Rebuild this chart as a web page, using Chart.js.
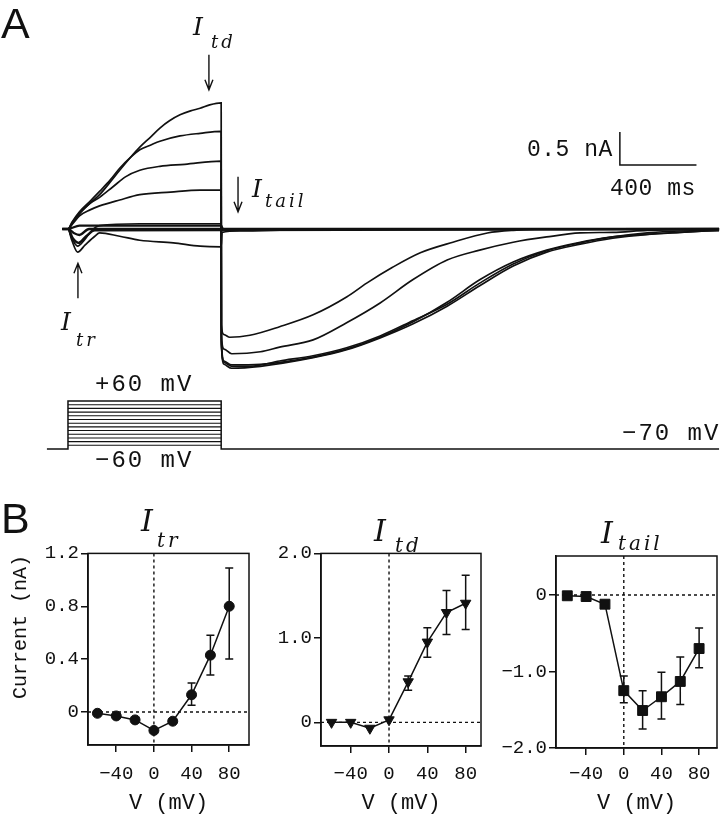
<!DOCTYPE html>
<html>
<head>
<meta charset="utf-8">
<script src="https://cdn.jsdelivr.net/npm/chart.js@4.4.1/dist/chart.umd.min.js"></script>
<style>
body { margin: 0; background: #fff; width: 725px; height: 816px; position: relative; overflow: hidden; color: #111; }
canvas { position: absolute; }
.t { position: absolute; white-space: pre; line-height: 1; }
.mono { font-family: "Liberation Mono", monospace; }
.it { font-family: "DejaVu Serif", serif; font-style: italic; }
.pl { font-family: "Liberation Sans", Arial, sans-serif; font-size: 43px; }
</style>
</head>
<body>
<canvas id="traces" width="725" height="480" style="left:0;top:0"></canvas>
<canvas id="ivTr" width="255" height="276" style="left:0;top:540px"></canvas>
<canvas id="ivTd" width="230" height="276" style="left:258px;top:540px"></canvas>
<canvas id="ivTail" width="235" height="276" style="left:490px;top:540px"></canvas>

<div class="t pl" style="left:1px;top:2px">A</div>
<div class="t pl" style="left:1px;top:497px">B</div>

<div class="t it" style="left:193px;top:14px;font-size:25px">I</div>
<div class="t it" style="left:211px;top:33px;font-size:18px;letter-spacing:3px">td</div>
<div class="t it" style="left:252px;top:176px;font-size:25px">I</div>
<div class="t it" style="left:265px;top:192px;font-size:18px;letter-spacing:3px">tail</div>
<div class="t it" style="left:61px;top:309px;font-size:25px">I</div>
<div class="t it" style="left:76px;top:331px;font-size:18px;letter-spacing:3px">tr</div>

<div class="t mono" style="left:527px;top:139px;font-size:23px;letter-spacing:0.5px">0.5 nA</div>
<div class="t mono" style="left:610px;top:178px;font-size:23px;letter-spacing:0.5px">400 ms</div>
<div class="t mono" style="left:95px;top:373px;font-size:24px;letter-spacing:2px">+60 mV</div>
<div class="t mono" style="left:95px;top:449px;font-size:24px;letter-spacing:2px">−60 mV</div>
<div class="t mono" style="left:622px;top:422px;font-size:24px;letter-spacing:2px">−70 mV</div>

<div class="t it" style="left:141px;top:506px;font-size:30px">I</div>
<div class="t it" style="left:157px;top:530px;font-size:20px;letter-spacing:3px">tr</div>
<div class="t it" style="left:374px;top:516px;font-size:30px">I</div>
<div class="t it" style="left:395px;top:535px;font-size:20px;letter-spacing:3px">td</div>
<div class="t it" style="left:601px;top:518px;font-size:30px">I</div>
<div class="t it" style="left:618px;top:533px;font-size:20px;letter-spacing:3px">tail</div>

<div class="t mono" style="left:-53px;top:617px;width:148px;height:20px;line-height:20px;text-align:center;font-size:20px;transform:rotate(-90deg)">Current (nA)</div>

<script>
// current traces, time in ms from step onset, current in nA
var t1 = [-30, 0, 20, 60, 115, 165, 220, 270, 325, 375, 430, 480, 530, 585, 640, 690, 740, 800, 801, 815, 845, 950, 1105, 1280, 1455, 1560, 1695, 1840, 2010, 2190, 2325, 2570, 3400];
var i1 = [0, 0, 0.08, 0.23, 0.39, 0.52, 0.71, 0.89, 1.08, 1.24, 1.39, 1.53, 1.64, 1.73, 1.79, 1.83, 1.88, 1.91, -1.45, -1.60, -1.64, -1.61, -1.48, -1.30, -1.03, -0.82, -0.58, -0.36, -0.20, -0.06, -0.02, 0, 0];
var t2 = [-30, 0, 20, 60, 115, 165, 220, 270, 325, 375, 430, 480, 585, 690, 800, 801, 815, 855, 1005, 1105, 1280, 1455, 1630, 1800, 1980, 2150, 2325, 2500, 2675, 2845, 3025, 3400];
var i2 = [0, 0, 0.10, 0.26, 0.42, 0.57, 0.74, 0.92, 1.08, 1.20, 1.27, 1.33, 1.41, 1.45, 1.48, -1.60, -1.82, -1.89, -1.86, -1.79, -1.68, -1.42, -1.12, -0.77, -0.47, -0.32, -0.20, -0.12, -0.06, -0.05, -0.02, 0];
var t3 = [-30, 0, 25, 60, 115, 165, 235, 300, 375, 480, 610, 800, 801, 815, 855, 950, 1105, 1280, 1455, 1630, 1800, 1980, 2150, 2325, 2500, 2675, 2845, 3025, 3195, 3400];
var i3 = [0, 0, 0.11, 0.24, 0.39, 0.48, 0.64, 0.79, 0.89, 0.95, 0.98, 1.03, -1.75, -2.02, -2.08, -2.08, -2.00, -1.92, -1.80, -1.62, -1.39, -1.14, -0.82, -0.53, -0.33, -0.21, -0.12, -0.08, -0.05, -0.02];
var t4 = [-30, 0, 25, 60, 115, 165, 270, 375, 535, 690, 800, 801, 815, 855, 1005, 1280, 1455, 1630, 1800, 1980, 2150, 2325, 2500, 2675, 2845, 3025, 3195, 3400];
var i4 = [0, 0, 0.08, 0.20, 0.29, 0.35, 0.44, 0.52, 0.56, 0.59, 0.59, -1.70, -2.05, -2.11, -2.08, -1.95, -1.83, -1.65, -1.44, -1.17, -0.86, -0.56, -0.35, -0.23, -0.14, -0.08, -0.05, -0.02];
var t5 = [-30, 0, 20, 50, 85, 125, 165, 375, 800, 801, 815, 855, 1005, 1280, 1455, 1630, 1800, 1980, 2150, 2325, 2500, 2675, 2845, 3025, 3195, 3400];
var i5 = [0, 0, -0.14, -0.26, -0.17, -0.02, 0.05, 0.08, 0.08, -1.70, -2.00, -2.06, -2.05, -1.94, -1.82, -1.64, -1.41, -1.11, -0.77, -0.50, -0.32, -0.20, -0.12, -0.06, -0.03, -0.02];
var t6 = [-30, 0, 20, 50, 90, 140, 165, 270, 375, 550, 690, 800, 805, 900, 1210, 3400];
var i6 = [0, 0, -0.17, -0.35, -0.24, -0.11, -0.06, -0.11, -0.17, -0.21, -0.26, -0.27, -0.05, -0.03, -0.01, 0];
var t7 = [-30, 0, 25, 55, 95, 140, 3400];
var i7 = [0, 0, -0.14, -0.21, -0.11, -0.02, 0];
var t8 = [-30, 0, 30, 60, 110, 3400];
var i8 = [0, 0, -0.06, -0.09, 0, 0];
var t9 = [-30, 0, 60, 165, 800, 810, 3400];
var i9 = [0, 0, 0.05, 0.05, 0.05, 0, 0];

// voltage protocol (mV)
var holdV = -70;
var stepV = [-60, -50, -40, -30, -20, -10, 0, 10, 20, 30, 40, 50, 60];
var stepEnd = 800;

// I-V summaries
var vmV = [-60, -40, -20, 0, 20, 40, 60, 80];
var iTr = [-0.01, -0.03, -0.06, -0.14, -0.07, 0.13, 0.43, 0.80];
var iTrLo = [null, null, null, null, null, 0.05, 0.28, 0.40];
var iTrHi = [null, null, null, null, null, 0.22, 0.58, 1.09];
var iTd = [0, 0, -0.07, 0.03, 0.48, 0.95, 1.30, 1.41];
var iTdLo = [null, null, null, null, 0.38, 0.77, 1.04, 1.10];
var iTdHi = [null, null, null, null, 0.55, 1.12, 1.56, 1.74];
var iTail = [-0.01, -0.02, -0.12, -1.25, -1.51, -1.33, -1.13, -0.70];
var iTailLo = [null, null, null, -1.41, -1.75, -1.62, -1.43, -0.95];
var iTailHi = [null, null, null, -1.06, -1.25, -1.01, -0.81, -0.43];

var vTicks = [-40, 0, 40, 80];
var trTicks = [0, 0.4, 0.8, 1.2];
var tdTicks = [0, 1.0, 2.0];
var tailTicks = [-2.0, -1.0, 0];

var ink = '#111';
var mono = '"Liberation Mono", monospace';

function pts(xs, ys) {
    return xs.map(function (x, k) { return { x: x, y: ys[k] }; });
}

function trace(xs, ys, w) {
    return {
        data: pts(xs, ys), yAxisID: 'y', borderColor: ink, borderWidth: w,
        pointRadius: 0, cubicInterpolationMode: 'monotone'
    };
}

function vline(points, w) {
    return { data: points, yAxisID: 'v', borderColor: ink, borderWidth: w, pointRadius: 0, tension: 0 };
}

// arrows marking the three currents
var arrowPlugin = {
    id: 'arrows',
    afterDatasetsDraw: function (chart) {
        var ctx = chart.ctx, sx = chart.scales.x, sy = chart.scales.y;
        var list = [
            { t: 736, from: 2.64, to: 2.11 },
            { t: 888, from: 0.79, to: 0.26 },
            { t: 52, from: -1.05, to: -0.52 }
        ];
        ctx.save();
        ctx.strokeStyle = ink;
        ctx.lineWidth = 1.4;
        list.forEach(function (a) {
            var x = sx.getPixelForValue(a.t);
            var y0 = sy.getPixelForValue(a.from), y1 = sy.getPixelForValue(a.to);
            var d = y1 > y0 ? -10 : 10;
            ctx.beginPath();
            ctx.moveTo(x, y0); ctx.lineTo(x, y1);
            ctx.moveTo(x - 4, y1 + d); ctx.lineTo(x, y1); ctx.lineTo(x + 4, y1 + d);
            ctx.stroke();
        });
        ctx.restore();
    }
};

var datasets = [
    trace(t1, i1, 1.7), trace(t2, i2, 1.7), trace(t3, i3, 1.7), trace(t4, i4, 1.7),
    trace(t5, i5, 1.7), trace(t6, i6, 1.7), trace(t7, i7, 2.4), trace(t8, i8, 2.4), trace(t9, i9, 2.2),
    // scale bar: 0.5 nA by 400 ms
    { data: [{ x: 2882, y: 1.47 }, { x: 2882, y: 0.97 }, { x: 3282, y: 0.97 }], yAxisID: 'y',
      borderColor: ink, borderWidth: 1.5, pointRadius: 0, tension: 0 },
    vline([{ x: -110, y: holdV }, { x: 0, y: holdV }, { x: 0, y: stepV[stepV.length - 1] },
           { x: stepEnd, y: stepV[stepV.length - 1] }, { x: stepEnd, y: holdV }, { x: 3400, y: holdV }], 1.5)
];
stepV.slice(0, -1).forEach(function (v) {
    datasets.push(vline([{ x: 0, y: v }, { x: stepEnd, y: v }], 1.1));
});

new Chart(document.getElementById('traces'), {
    type: 'line',
    data: { datasets: datasets },
    options: {
        responsive: false, animation: false, devicePixelRatio: 1,
        layout: { padding: 0 },
        plugins: { legend: { display: false }, tooltip: { enabled: false } },
        scales: {
            x: { type: 'linear', display: false, min: -355, max: 3431 },
            y: { type: 'linear', display: false, min: -3.803, max: 3.470 },
            v: { type: 'linear', axis: 'y', display: false, min: -154, max: 1147 }
        }
    },
    plugins: [arrowPlugin]
});

// frame, dotted zero lines and error bars for the I-V plots
var ivDecor = {
    id: 'ivDecor',
    beforeDatasetsDraw: function (chart) {
        var ctx = chart.ctx, a = chart.chartArea, sx = chart.scales.x, sy = chart.scales.y;
        var ds = chart.data.datasets[0];
        ctx.save();
        ctx.strokeStyle = ink;
        ctx.lineWidth = 1.4;
        ctx.setLineDash([3, 3]);
        ctx.beginPath();
        ctx.moveTo(sx.getPixelForValue(0), a.top); ctx.lineTo(sx.getPixelForValue(0), a.bottom);
        ctx.moveTo(a.left, sy.getPixelForValue(0)); ctx.lineTo(a.right, sy.getPixelForValue(0));
        ctx.stroke();
        ctx.setLineDash([]);
        ctx.lineWidth = 1.5;
        ctx.beginPath();
        ds.data.forEach(function (p, k) {
            if (ds.errLo[k] === null) return;
            var x = sx.getPixelForValue(p.x);
            var yl = sy.getPixelForValue(ds.errLo[k]), yh = sy.getPixelForValue(ds.errHi[k]);
            ctx.moveTo(x, yl); ctx.lineTo(x, yh);
            ctx.moveTo(x - 4, yl); ctx.lineTo(x + 4, yl);
            ctx.moveTo(x - 4, yh); ctx.lineTo(x + 4, yh);
        });
        ctx.stroke();
        ctx.restore();
    },
    afterDraw: function (chart) {
        var ctx = chart.ctx, a = chart.chartArea;
        ctx.save();
        ctx.strokeStyle = ink;
        ctx.lineWidth = 1.5;
        ctx.strokeRect(a.left, a.top, a.right - a.left, a.bottom - a.top);
        ctx.restore();
    }
};

function fmt(v, dec) {
    var s = v === 0 ? '0' : v.toFixed(dec);
    return s.replace('-', '\u2212');
}

function ivChart(id, ys, lo, hi, mark, o) {
    return new Chart(document.getElementById(id), {
        type: 'line',
        data: {
            datasets: [{
                data: pts(vmV, ys), errLo: lo, errHi: hi,
                borderColor: ink, borderWidth: 1.5, tension: 0,
                pointStyle: mark.style, rotation: mark.rot, pointRadius: mark.r,
                pointBackgroundColor: ink, pointBorderColor: ink, pointBorderWidth: 1
            }]
        },
        options: {
            responsive: false, animation: false, devicePixelRatio: 1,
            layout: { padding: { top: o.padTop, right: o.padRight, left: 0, bottom: 0 } },
            plugins: { legend: { display: false }, tooltip: { enabled: false } },
            scales: {
                x: {
                    type: 'linear', min: o.xMin, max: o.xMax,
                    afterBuildTicks: function (s) { s.ticks = vTicks.map(function (v) { return { value: v }; }); },
                    afterFit: function (s) { s.height = o.xH; },
                    ticks: { autoSkip: false, maxRotation: 0, padding: o.xPad, color: ink,
                             font: { family: mono, size: 19 },
                             callback: function (v) { return fmt(v, 0); } },
                    grid: { display: true, drawOnChartArea: false, drawTicks: true, tickLength: 7, color: ink, lineWidth: 1.5 },
                    border: { display: true, color: ink, width: 1.5 },
                    title: { display: true, text: 'V (mV)', color: ink, font: { family: mono, size: 22 },
                             padding: { top: 3, bottom: 0 } }
                },
                y: {
                    type: 'linear', min: o.yMin, max: o.yMax,
                    afterBuildTicks: function (s) { s.ticks = o.yTicks.map(function (v) { return { value: v }; }); },
                    afterFit: function (s) { s.width = o.yW; },
                    ticks: { autoSkip: false, padding: 2, color: ink,
                             font: { family: mono, size: 19 },
                             callback: function (v) { return fmt(v, 1); } },
                    grid: { display: true, drawOnChartArea: false, drawTicks: true, tickLength: 7, color: ink, lineWidth: 1.5 },
                    border: { display: true, color: ink, width: 1.5 }
                }
            }
        },
        plugins: [ivDecor]
    });
}

ivChart('ivTr', iTr, iTrLo, iTrHi, { style: 'circle', rot: 0, r: 5 },
    { padTop: 12, padRight: 3, xMin: -70, xMax: 101, yMin: -0.25, yMax: 1.2, yTicks: trTicks, yW: 88, xH: 71, xPad: 11 });
ivChart('ivTd', iTd, iTdLo, iTdHi, { style: 'triangle', rot: 180, r: 6 },
    { padTop: 12, padRight: 4, xMin: -71, xMax: 96, yMin: -0.28, yMax: 2.0, yTicks: tdTicks, yW: 63, xH: 70, xPad: 10 });
ivChart('ivTail', iTail, iTailLo, iTailHi, { style: 'rect', rot: 0, r: 7 },
    { padTop: 16, padRight: 4, xMin: -72, xMax: 99, yMin: -2.0, yMax: 0.51, yTicks: tailTicks, yW: 66, xH: 68, xPad: 8 });
</script>
</body>
</html>
